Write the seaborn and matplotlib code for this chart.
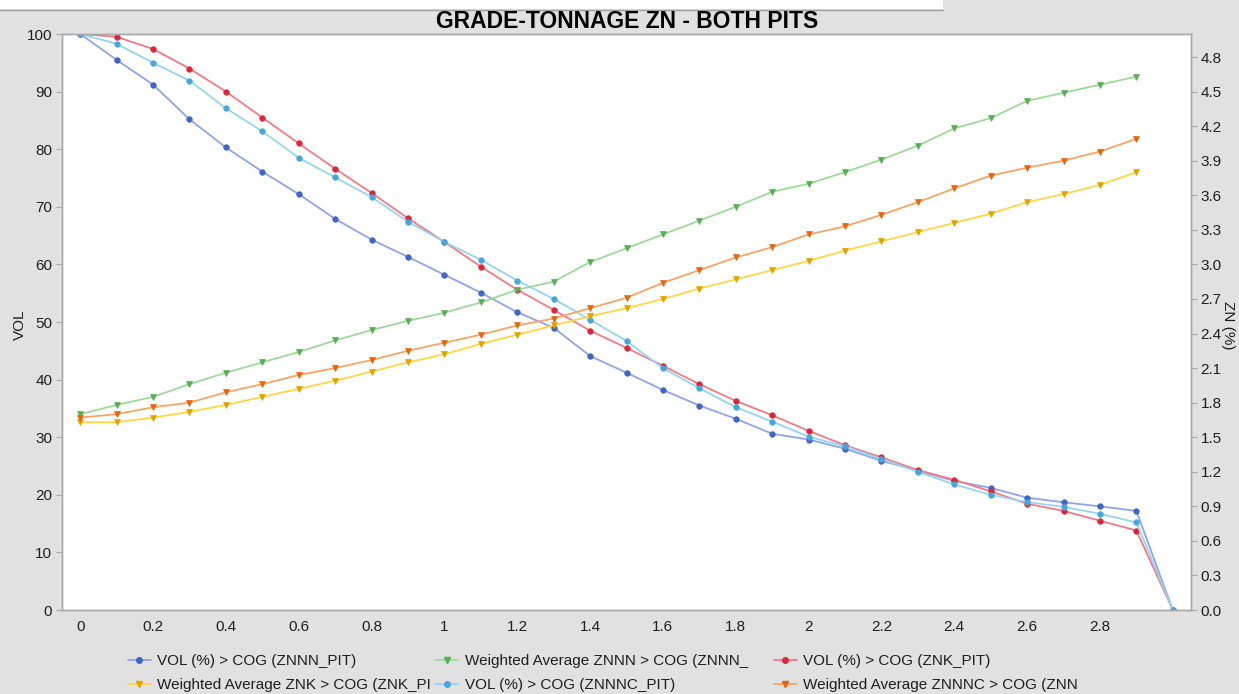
import numpy as np
import pandas as pd
import matplotlib
matplotlib.use("Agg")
import matplotlib.pyplot as plt
from matplotlib.lines import Line2D
from matplotlib.patches import Rectangle
import seaborn as sns

# Cut-off grades (% ZN)
cog = [0.0, 0.1, 0.2, 0.3, 0.4, 0.5, 0.6, 0.7, 0.8, 0.9, 1.0, 1.1, 1.2, 1.3, 1.4,
       1.5, 1.6, 1.7, 1.8, 1.9, 2.0, 2.1, 2.2, 2.3, 2.4, 2.5, 2.6, 2.7, 2.8, 2.9, 3.0]
cog_avg = cog[:-1]

# Volume above cut-off (%), left axis
vol_znnn = [100, 95.5, 91.2, 85.2, 80.3, 76.1, 72.2, 67.9, 64.3, 61.3, 58.2, 55.1, 51.7,
            49.0, 44.1, 41.2, 38.2, 35.5, 33.2, 30.6, 29.6, 28.0, 25.9, 24.2, 22.4, 21.2,
            19.5, 18.7, 18.0, 17.2, 0.0]
vol_znk = [100, 99.5, 97.4, 94.0, 90.0, 85.5, 81.0, 76.6, 72.4, 68.0, 63.9, 59.6, 55.6,
           52.1, 48.5, 45.5, 42.4, 39.2, 36.3, 33.8, 31.1, 28.6, 26.5, 24.3, 22.6, 20.6,
           18.45, 17.2, 15.5, 13.8, 0.0]
vol_znnnc = [100, 98.3, 95.0, 91.9, 87.1, 83.1, 78.5, 75.1, 71.7, 67.4, 63.9, 60.8, 57.2,
             54.0, 50.4, 46.7, 42.0, 38.5, 35.2, 32.7, 30.1, 28.4, 26.2, 24.0, 21.8, 20.0,
             18.75, 17.9, 16.7, 15.2, 0.0]

# Weighted average grade above cut-off (% ZN), right axis
avg_znnn = [1.70, 1.78, 1.85, 1.96, 2.06, 2.15, 2.24, 2.34, 2.43, 2.51, 2.58, 2.67, 2.78,
            2.85, 3.02, 3.14, 3.26, 3.38, 3.50, 3.63, 3.70, 3.80, 3.91, 4.03, 4.18, 4.27,
            4.42, 4.49, 4.56, 4.63]
avg_znk = [1.63, 1.63, 1.67, 1.72, 1.78, 1.85, 1.92, 1.99, 2.07, 2.15, 2.22, 2.31, 2.39,
           2.47, 2.55, 2.62, 2.70, 2.79, 2.87, 2.95, 3.03, 3.12, 3.20, 3.28, 3.36, 3.44,
           3.54, 3.61, 3.69, 3.80]
avg_znnnc = [1.67, 1.70, 1.76, 1.80, 1.89, 1.96, 2.04, 2.10, 2.17, 2.25, 2.32, 2.39, 2.47,
             2.53, 2.62, 2.71, 2.84, 2.95, 3.06, 3.15, 3.26, 3.33, 3.43, 3.54, 3.66, 3.77,
             3.84, 3.90, 3.98, 4.09]

labels = ["VOL (%) > COG (ZNNN_PIT)",
          "Weighted Average ZNNN > COG (ZNNN_     ",
          "VOL (%) > COG (ZNK_PIT)",
          "Weighted Average ZNK > COG (ZNK_PI",
          "VOL (%) > COG (ZNNNC_PIT)",
          "Weighted Average ZNNNC > COG (ZNN"]

sns.set_theme(style="white")
plt.rcParams["font.family"] = ["Liberation Sans", "DejaVu Sans"]

bg = "#e1e1e1"
spine_c = "#a8a8a8"
text_c = "#1e1e1e"

fig = plt.figure(figsize=(12.39, 6.94), dpi=100, facecolor=bg)
ax = fig.add_axes([62 / 1239, 1 - 610 / 694, (1191 - 62) / 1239, (610 - 34) / 694])
ax2 = ax.twinx()

# (line colour, marker colour)
c_blue = ("#8ea4e6", "#4464c4")
c_red = ("#f27a86", "#d6283c")
c_lblue = ("#96d4f2", "#48a6da")
c_green = ("#9ed99a", "#58ac58")
c_orange = ("#f8a466", "#e06810")
c_yellow = ("#ffd54a", "#e0a400")


def draw(axis, x, y, cols, marker, ms, label):
    df = pd.DataFrame({"x": x, "y": y})
    sns.lineplot(data=df, x="x", y="y", ax=axis, color=cols[0], lw=1.3,
                 marker=marker, markersize=ms, markerfacecolor=cols[1],
                 markeredgecolor=cols[1], markeredgewidth=0.5, label=label,
                 legend=False)


draw(ax, cog, vol_znnn, c_blue, "o", 4, labels[0])
draw(ax, cog, vol_znk, c_red, "o", 4, labels[2])
draw(ax, cog, vol_znnnc, c_lblue, "o", 4, labels[4])
draw(ax2, cog_avg, avg_znnn, c_green, "v", 4.5, labels[1])
draw(ax2, cog_avg, avg_znk, c_yellow, "v", 4.5, labels[3])
draw(ax2, cog_avg, avg_znnnc, c_orange, "v", 4.5, labels[5])

ax.set_xlim(-0.05, 3.05)
ax.set_ylim(0, 100)
ax2.set_ylim(0, 5.0)
ax.set_xticks(np.arange(0, 2.81, 0.2))
ax.set_xticklabels(["0", "0.2", "0.4", "0.6", "0.8", "1", "1.2", "1.4", "1.6", "1.8",
                    "2", "2.2", "2.4", "2.6", "2.8"])
ax.set_yticks(np.arange(0, 101, 10))
ax2.set_yticks(np.arange(0, 4.81, 0.3))
ax2.set_yticklabels([f"{v:.1f}" for v in np.arange(0, 4.81, 0.3)])

for a in (ax, ax2):
    a.set_facecolor("white")
    a.set_xlabel("")
    a.set_ylabel("")
    for s in a.spines.values():
        s.set_color(spine_c)
        s.set_linewidth(1.0)
    a.tick_params(axis="both", direction="out", length=4, width=0.8, color=spine_c,
                  labelsize=11, labelcolor=text_c, pad=3)
    a.grid(False)
ax.patch.set_visible(True)
ax2.patch.set_visible(False)
ax.set_zorder(ax2.get_zorder() - 1)
ax2.set_zorder(1)

fig.text(20 / 1239, 1 - 325 / 694, "VOL", rotation=90, ha="center", va="center",
         fontsize=11, color=text_c)
fig.text(1228 / 1239, 1 - 325 / 694, "ZN (%)", rotation=270, ha="center", va="center",
         fontsize=11, color=text_c)

fig.text(627 / 1239, 1 - 22 / 694, "GRADE-TONNAGE ZN - BOTH PITS", ha="center",
         va="center", fontsize=16.5, fontweight="bold", color="black")

# top strip of the window frame
fig.add_artist(Rectangle((0, 1 - 9 / 694), 943 / 1239, 9 / 694, transform=fig.transFigure,
                         facecolor="white", edgecolor="none"))
fig.add_artist(Line2D([0, 943 / 1239], [1 - 9.5 / 694, 1 - 9.5 / 694],
                      transform=fig.transFigure, color="#a0a0a0", lw=1))

# legend, two rows of three
h = {l.get_label(): l for l in ax.get_lines() + ax2.get_lines()}
order = [labels[0], labels[3], labels[1], labels[4], labels[2], labels[5]]
handles = [Line2D([], [], color=h[k].get_color(), marker=h[k].get_marker(),
                  markersize=h[k].get_markersize(),
                  markerfacecolor=h[k].get_markerfacecolor(),
                  markeredgecolor=h[k].get_markeredgecolor(), lw=1.3) for k in order]
fig.legend(handles, order, ncol=3, loc="center left",
           bbox_to_anchor=(128 / 1239, 1 - 673 / 694), frameon=False, fontsize=11,
           handlelength=1.5, handletextpad=0.4, columnspacing=0.3, labelspacing=0.65,
           borderpad=0, borderaxespad=0, labelcolor=text_c)

fig.savefig("out.png", dpi=100, facecolor=bg)
